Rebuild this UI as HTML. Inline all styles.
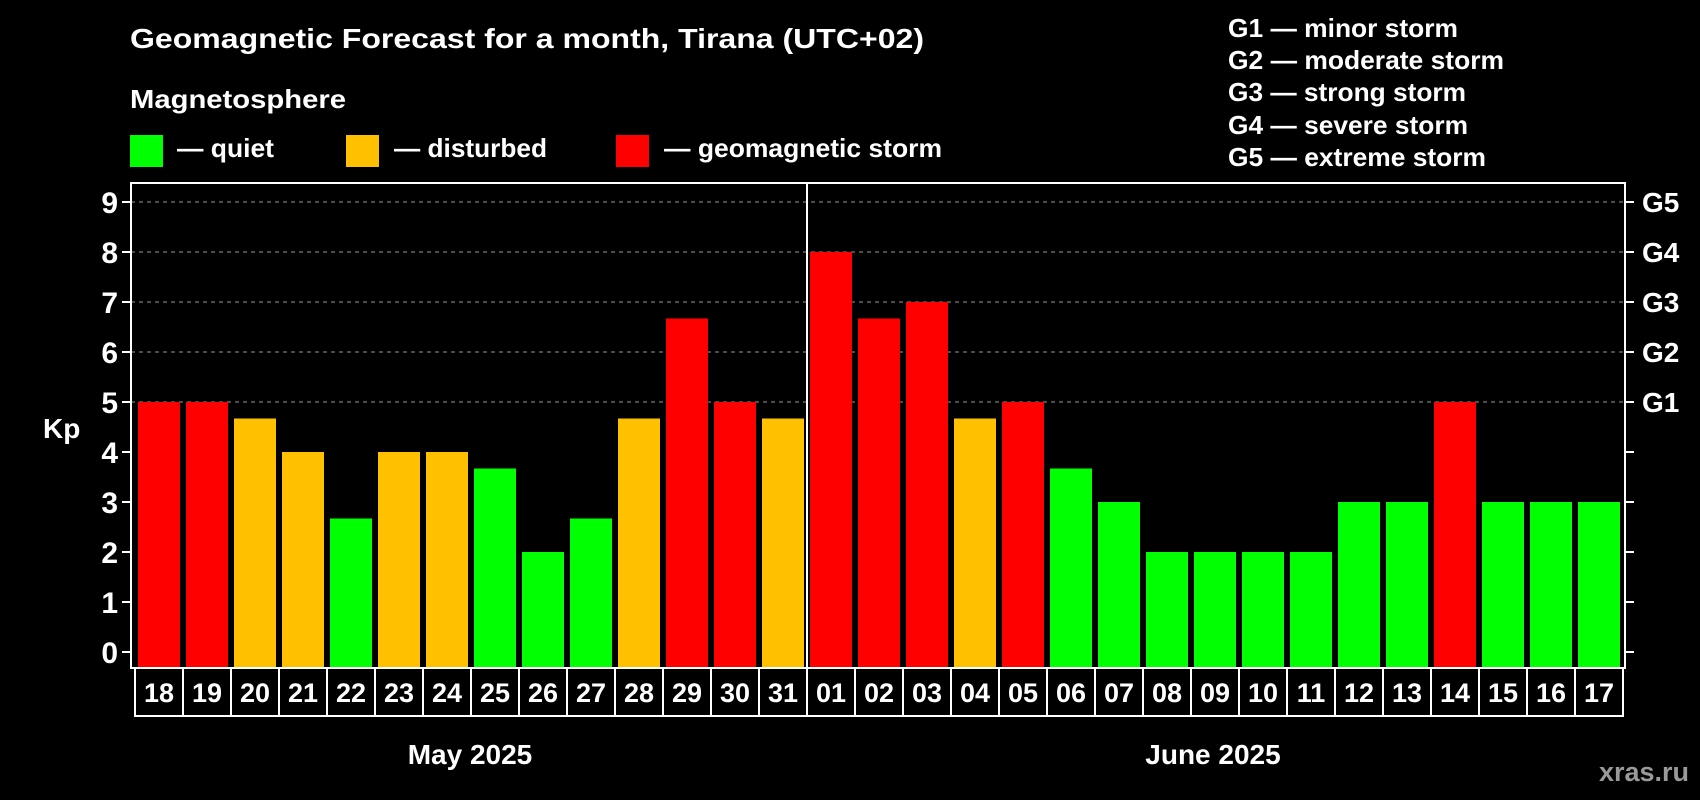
<!DOCTYPE html>
<html><head><meta charset="utf-8"><style>
html,body{margin:0;padding:0;background:#000;}
svg{display:block;font-family:"Liberation Sans",sans-serif;font-weight:bold;}
</style></head><body>
<svg id="chart" width="1700" height="800" viewBox="0 0 1700 800">
<rect width="1700" height="800" fill="#000"/>
<text x="130" y="48" fill="#fff" font-size="28" textLength="794" lengthAdjust="spacingAndGlyphs">Geomagnetic Forecast for a month, Tirana (UTC+02)</text>
<text x="130" y="108" fill="#fff" font-size="26" textLength="216" lengthAdjust="spacingAndGlyphs">Magnetosphere</text>
<rect x="130" y="135" width="33" height="32" fill="#00ff00"/>
<text x="177" y="157" fill="#fff" font-size="26" textLength="97" lengthAdjust="spacingAndGlyphs">— quiet</text>
<rect x="346" y="135" width="33" height="32" fill="#ffc000"/>
<text x="394" y="157" fill="#fff" font-size="26" textLength="153" lengthAdjust="spacingAndGlyphs">— disturbed</text>
<rect x="616" y="135" width="33" height="32" fill="#ff0000"/>
<text x="664" y="157" fill="#fff" font-size="26" textLength="278" lengthAdjust="spacingAndGlyphs">— geomagnetic storm</text>
<g fill="#fff" font-size="26">
<text x="1228" y="37" textLength="230" lengthAdjust="spacingAndGlyphs">G1 — minor storm</text>
<text x="1228" y="69" textLength="276" lengthAdjust="spacingAndGlyphs">G2 — moderate storm</text>
<text x="1228" y="101" textLength="238" lengthAdjust="spacingAndGlyphs">G3 — strong storm</text>
<text x="1228" y="134" textLength="240" lengthAdjust="spacingAndGlyphs">G4 — severe storm</text>
<text x="1228" y="166" textLength="258" lengthAdjust="spacingAndGlyphs">G5 — extreme storm</text>
</g>
<text x="43" y="438" fill="#fff" font-size="28">Kp</text>
<g id="grid"></g><g id="bars"></g><g id="axes"></g>
<text x="470" y="764" fill="#fff" font-size="28" text-anchor="middle">May 2025</text>
<text x="1213" y="764" fill="#fff" font-size="28" text-anchor="middle">June 2025</text>
<text x="1689" y="781" fill="#999" font-size="27" text-anchor="end">xras.ru</text>
</svg>
<script>
const days = ["18","19","20","21","22","23","24","25","26","27","28","29","30","31","01","02","03","04","05","06","07","08","09","10","11","12","13","14","15","16","17"];
const kpValues = [5,5,4.67,4,2.67,4,4,3.67,2,2.67,4.67,6.67,5,4.67,8,6.67,7,4.67,5,3.67,3,2,2,2,2,3,3,5,3,3,3];
const yTicks = [0,1,2,3,4,5,6,7,8,9];
const gLabels = ["G1","G2","G3","G4","G5"];
const gLevels = [5,6,7,8,9];

const NS="http://www.w3.org/2000/svg";
const L=131,R=1625,T=183,B=668;
const y0=652,unit=(652-202)/9;
const y=v=>y0-v*unit;
const pitch=(1620-138+6)/days.length;
const xb=i=>138+i*pitch;
function mk(tag,attrs,parent){const e=document.createElementNS(NS,tag);for(const k in attrs)e.setAttribute(k,attrs[k]);parent.appendChild(e);return e;}
const grid=document.getElementById('grid'),bars=document.getElementById('bars'),axes=document.getElementById('axes');
gLevels.forEach((g,i)=>{
  const ln=mk('line',{x1:L,x2:R,y1:y(g),y2:y(g),stroke:'#999','stroke-dasharray':'4,4','stroke-width':1},grid);
  
  
  const t=mk('text',{x:1642,y:y(g)+10,fill:'#fff','font-size':28},axes);
  t.textContent=gLabels[i];
  
  
});
function color(v){return v>=5?'#ff0000':(v>=4?'#ffc000':'#00ff00');}
kpValues.forEach((v,i)=>{
  const r=mk('rect',{x:xb(i),y:y(v),width:42,height:B-y(v),fill:color(v)},bars);
  
  
  const c=mk('rect',{x:xb(i)-3,y:B,width:pitch,height:48,fill:'none',stroke:'#fff','stroke-width':2},axes);
  
  
  const t=mk('text',{x:xb(i)+21,y:702,fill:'#fff','font-size':27,'text-anchor':'middle'},axes);
  t.textContent=days[i];
  
  
});
yTicks.forEach(v=>{
  const a=mk('line',{x1:122,x2:L,y1:y(v),y2:y(v),stroke:'#fff','stroke-width':2},axes);
  
  
  const b=mk('line',{x1:R,x2:R+9,y1:y(v),y2:y(v),stroke:'#fff','stroke-width':2},axes);
  
  
  const t=mk('text',{x:118,y:y(v)+11,fill:'#fff','font-size':30,'text-anchor':'end'},axes);
  t.textContent=v;
  
  
});
const fr=mk('rect',{x:L,y:T,width:R-L,height:B-T,fill:'none',stroke:'#fff','stroke-width':2},axes);


const mi=days.indexOf("01");
const sx=xb(mi)-3;
const sep=mk('line',{x1:sx,x2:sx,y1:T,y2:B+48,stroke:'#fff','stroke-width':2},axes);


</script>
</body></html>
